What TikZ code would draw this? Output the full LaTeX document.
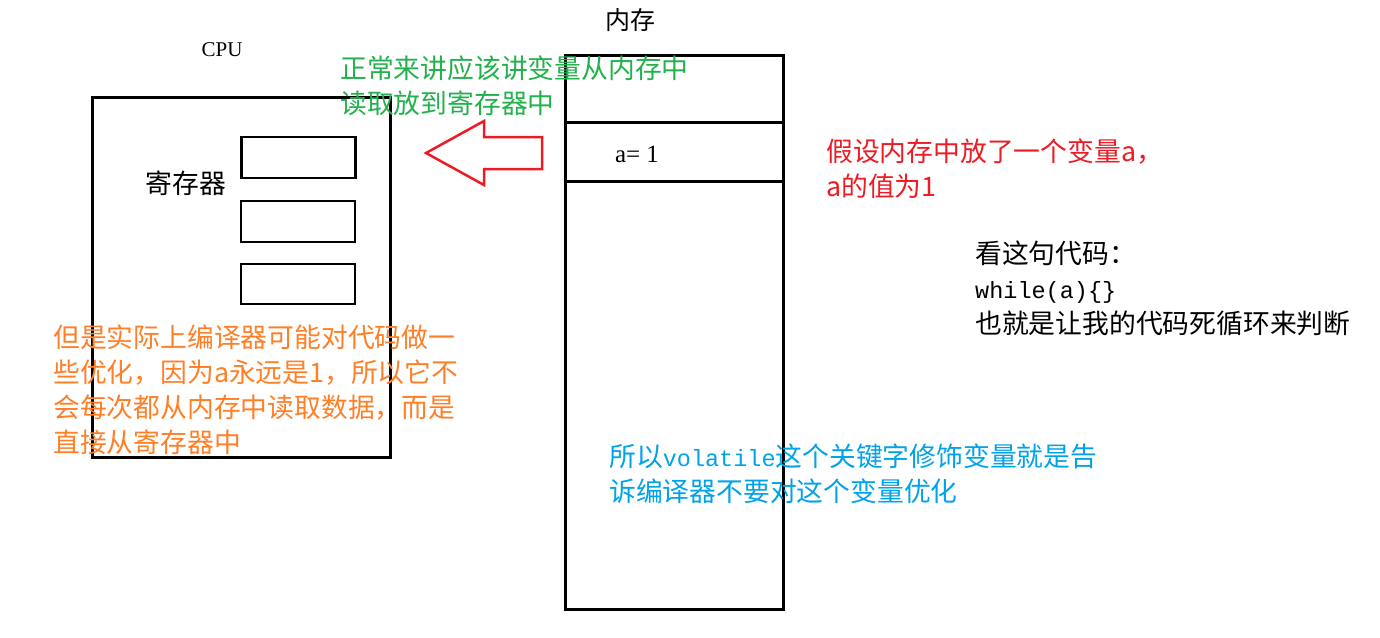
\documentclass[tikz,border=0pt]{standalone}
\usepackage{fontspec}
\setmainfont{Liberation Serif}
\newfontfamily\cjk{Noto Sans CJK SC}
\newfontfamily\mono{Liberation Mono}
\definecolor{cgreen}{RGB}{34,177,76}
\definecolor{cred}{RGB}{237,28,36}
\definecolor{corange}{RGB}{255,127,39}
\definecolor{cblue}{RGB}{0,162,232}
\tikzset{
  bigbox/.style={draw, line width=3pt, inner sep=0, minimum width=#1},
  regbox/.style={draw, line width=2.5pt, inner sep=0, minimum width=114pt, minimum height=41pt},
  txt/.style={inner sep=0, align=left, anchor=west, font=\cjk\fontsize{26.8}{35}\selectfont},
  lbl/.style={inner sep=0, font=\fontsize{21}{24}\selectfont},
}
\begin{document}
\begin{tikzpicture}[x=1pt,y=-1pt]
\useasboundingbox (0,0) rectangle (1380,637);
% CPU
\node[lbl] (cpulbl) at (222,50) {CPU};
\node[bigbox=298pt, minimum height=360pt] (cpu) at (241,277) {};
\node[regbox] (r1) at (298.5,157.5) {};
\node[regbox] (r2) at (298,221.5) {};
\node[regbox, minimum height=40pt] (r3) at (298,284) {};
\node[txt, anchor=center] (reglbl) at (186,183) {寄存器};
% memory
\node[txt, anchor=center, font=\cjk\fontsize{25}{30}\selectfont] (memlbl) at (630,20) {内存};
\node[bigbox=218pt, minimum height=554pt] (mem) at (674,332) {};
\node[bigbox=218pt, minimum height=59pt] (cell) at (674,151.5) {};
\node[lbl, font=\fontsize{25}{28}\selectfont] (aval) at (637,154) {a= 1};
% arrow
\draw[cred, line width=2.5pt, line join=miter]
  (426,153) -- (484,121) -- (484,137) -- (542,137) -- (542,169) -- (484,169) -- (484,185) -- cycle;
% texts
\node[txt, text=cgreen] (tgreen) at (340,86) {正常来讲应该讲变量从内存中\\读取放到寄存器中};
\node[txt, text=cred] (tred) at (826,168.5) {假设内存中放了一个变量a，\\a的值为1};
\node[txt, text=black] (tblack) at (975,288) {看这句代码：\\{\mono\fontsize{23.5}{35}\selectfont while(a)\{\}}\\也就是让我的代码死循环来判断};
\node[txt, text=corange] (torange) at (53,389.5) {但是实际上编译器可能对代码做一\\些优化，因为a永远是1，所以它不\\会每次都从内存中读取数据，而是\\直接从寄存器中};
\node[txt, text=cblue] (tblue) at (609,474) {所以{\mono\fontsize{23.5}{35}\selectfont volatile}这个关键字修饰变量就是告\\诉编译器不要对这个变量优化};
\end{tikzpicture}
\end{document}
